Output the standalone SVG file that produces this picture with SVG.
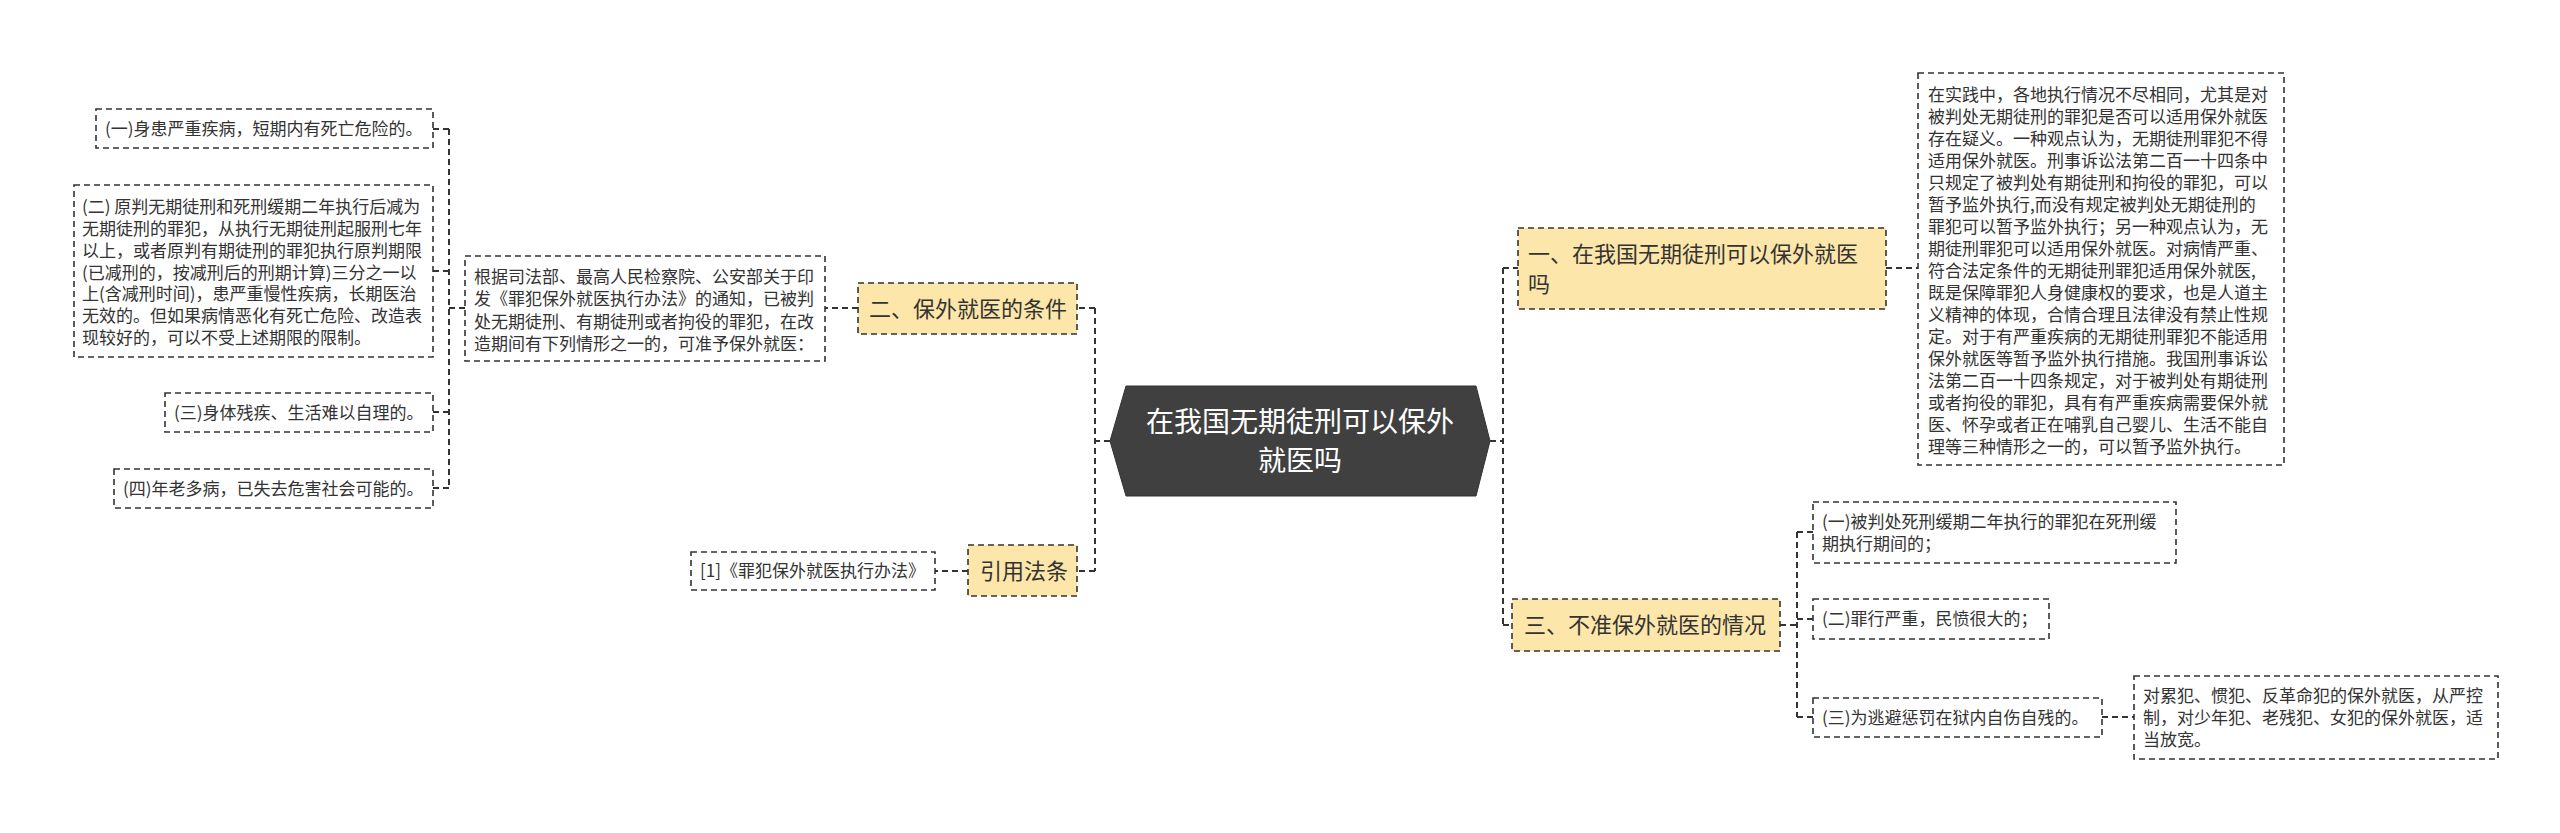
<svg xmlns="http://www.w3.org/2000/svg" width="2560" height="833" viewBox="0 0 2560 833">
<style>
text{font-family:"Noto Sans CJK SC","Liberation Sans",sans-serif;fill:#333}
.leaf{fill:#fff;stroke:#333;stroke-width:1.6;stroke-dasharray:6 4}
.main{fill:#fde6a9;stroke:#333;stroke-width:1.6;stroke-dasharray:6 4}
.t{font-size:17px}
.m{font-size:22px}
.c{fill:none;stroke:#333;stroke-width:2;stroke-dasharray:6 4}
</style>
<rect width="2560" height="833" fill="#fff"/>
<g id="connectors">
<path class="c" d="M1110 441H1095M1095 308V571M1095 308H1077M1095 571H1077M858 308H825M465 308H449M449 129V488M449 129H433M449 271H433M449 412H433M449 488H433M968 571H935"/>
<path class="c" d="M1490 441H1503M1503 268V625M1503 268H1518M1503 625H1512M1886 268H1918M1780 625H1797M1797 532V717M1797 532H1813M1797 619H1813M1797 717H1813M2102 717H2134"/>
</g>
<g id="center">
<polygon points="1126,386 1476,386 1490,441 1476,496 1126,496 1110,441" fill="#404040" stroke="#333"/>
<text x="1300" y="432" font-size="28" text-anchor="middle" style="fill:#fff">在我国无期徒刑可以保外</text>
<text x="1300" y="471" font-size="28" text-anchor="middle" style="fill:#fff">就医吗</text>
</g>
<g id="n1">
<rect class="main" x="1518" y="228" width="368" height="81"/>
<text class="m" x="1528" y="262">一、在我国无期徒刑可以保外就医</text>
<text class="m" x="1528" y="292">吗</text>
</g>
<g id="n1a">
<rect class="leaf" x="1918" y="73" width="366" height="392"/>
<text class="t" x="1928">
<tspan x="1928" y="101">在实践中，各地执行情况不尽相同，尤其是对</tspan>
<tspan x="1928" y="123">被判处无期徒刑的罪犯是否可以适用保外就医</tspan>
<tspan x="1928" y="145">存在疑义。一种观点认为，无期徒刑罪犯不得</tspan>
<tspan x="1928" y="167">适用保外就医。刑事诉讼法第二百一十四条中</tspan>
<tspan x="1928" y="189">只规定了被判处有期徒刑和拘役的罪犯，可以</tspan>
<tspan x="1928" y="211">暂予监外执行,而没有规定被判处无期徒刑的</tspan>
<tspan x="1928" y="233">罪犯可以暂予监外执行；另一种观点认为，无</tspan>
<tspan x="1928" y="255">期徒刑罪犯可以适用保外就医。对病情严重、</tspan>
<tspan x="1928" y="277">符合法定条件的无期徒刑罪犯适用保外就医,</tspan>
<tspan x="1928" y="299">既是保障罪犯人身健康权的要求，也是人道主</tspan>
<tspan x="1928" y="321">义精神的体现，合情合理且法律没有禁止性规</tspan>
<tspan x="1928" y="343">定。对于有严重疾病的无期徒刑罪犯不能适用</tspan>
<tspan x="1928" y="365">保外就医等暂予监外执行措施。我国刑事诉讼</tspan>
<tspan x="1928" y="387">法第二百一十四条规定，对于被判处有期徒刑</tspan>
<tspan x="1928" y="409">或者拘役的罪犯，具有有严重疾病需要保外就</tspan>
<tspan x="1928" y="431">医、怀孕或者正在哺乳自己婴儿、生活不能自</tspan>
<tspan x="1928" y="453">理等三种情形之一的，可以暂予监外执行。</tspan>
</text>
</g>
<g id="n3">
<rect class="main" x="1512" y="599" width="268" height="52"/>
<text class="m" x="1524" y="633">三、不准保外就医的情况</text>
</g>
<g id="n3a">
<rect class="leaf" x="1813" y="502" width="363" height="61"/>
<text class="t" x="1822" y="528">(一)被判处死刑缓期二年执行的罪犯在死刑缓</text>
<text class="t" x="1822" y="550">期执行期间的；</text>
</g>
<g id="n3b">
<rect class="leaf" x="1813" y="599" width="236" height="40"/>
<text class="t" x="1822" y="625">(二)罪行严重，民愤很大的；</text>
</g>
<g id="n3c">
<rect class="leaf" x="1813" y="698" width="289" height="39"/>
<text class="t" x="1822" y="724">(三)为逃避惩罚在狱内自伤自残的。</text>
</g>
<g id="n3c1">
<rect class="leaf" x="2134" y="676" width="364" height="83"/>
<text class="t" x="2143" y="702">对累犯、惯犯、反革命犯的保外就医，从严控</text>
<text class="t" x="2143" y="724">制，对少年犯、老残犯、女犯的保外就医，适</text>
<text class="t" x="2143" y="746">当放宽。</text>
</g>
<g id="n2">
<rect class="main" x="858" y="283" width="219" height="51"/>
<text class="m" x="869" y="317">二、保外就医的条件</text>
</g>
<g id="n2a">
<rect class="leaf" x="465" y="256" width="360" height="105"/>
<text class="t" x="474" y="283">根据司法部、最高人民检察院、公安部关于印</text>
<text class="t" x="474" y="305">发《罪犯保外就医执行办法》的通知，已被判</text>
<text class="t" x="474" y="328">处无期徒刑、有期徒刑或者拘役的罪犯，在改</text>
<text class="t" x="474" y="350">造期间有下列情形之一的，可准予保外就医：</text>
</g>
<g id="l1">
<rect class="leaf" x="96" y="109" width="337" height="39"/>
<text class="t" x="105" y="135">(一)身患严重疾病，短期内有死亡危险的。</text>
</g>
<g id="l2">
<rect class="leaf" x="74" y="185" width="359" height="172"/>
<text class="t" x="82" y="213">(二) 原判无期徒刑和死刑缓期二年执行后减为</text>
<text class="t" x="82" y="235">无期徒刑的罪犯，从执行无期徒刑起服刑七年</text>
<text class="t" x="82" y="257">以上，或者原判有期徒刑的罪犯执行原判期限</text>
<text class="t" x="82" y="279">(已减刑的，按减刑后的刑期计算)三分之一以</text>
<text class="t" x="82" y="300">上(含减刑时间)，患严重慢性疾病，长期医治</text>
<text class="t" x="82" y="322">无效的。但如果病情恶化有死亡危险、改造表</text>
<text class="t" x="82" y="344">现较好的，可以不受上述期限的限制。</text>
</g>
<g id="l3">
<rect class="leaf" x="165" y="393" width="268" height="39"/>
<text class="t" x="174" y="419">(三)身体残疾、生活难以自理的。</text>
</g>
<g id="l4">
<rect class="leaf" x="114" y="469" width="319" height="39"/>
<text class="t" x="123" y="495">(四)年老多病，已失去危害社会可能的。</text>
</g>
<g id="n4">
<rect class="main" x="968" y="545" width="109" height="51"/>
<text class="m" x="980" y="579">引用法条</text>
</g>
<g id="n4a">
<rect class="leaf" x="691" y="552" width="244" height="38"/>
<text class="t" x="700" y="577">[1]《罪犯保外就医执行办法》</text>
</g>
</svg>
